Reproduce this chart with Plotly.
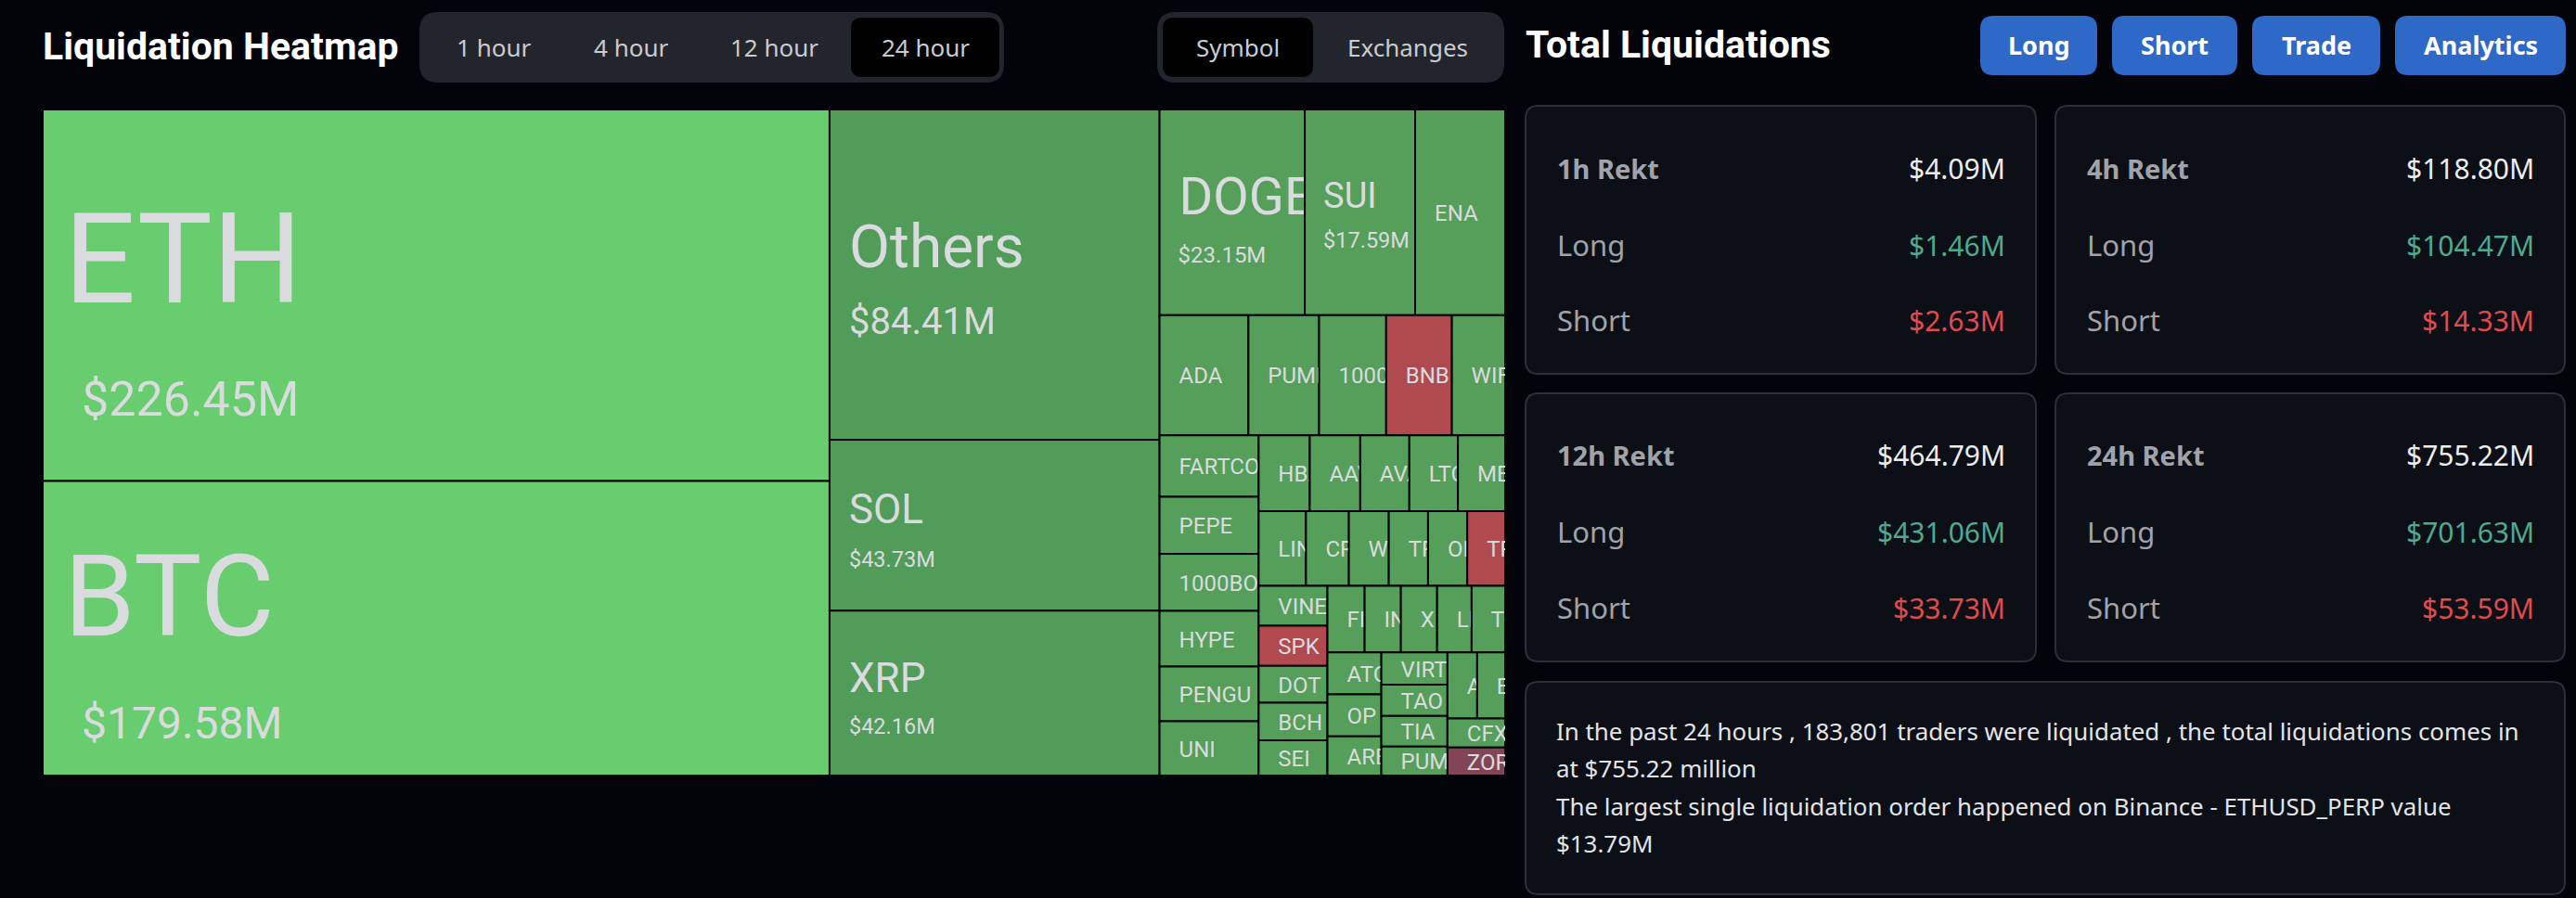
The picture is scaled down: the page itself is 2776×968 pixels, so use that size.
import plotly.graph_objects as go

PAGE_W = 2776
PAGE_H = 968
FONT = "Noto Sans"
MAP_FONT = "Roboto"

# liquidation totals per symbol in $M (small tiles estimated from their area)
SYMBOLS = [
    "ETH", "BTC", "Others", "SOL", "XRP", "DOGE", "SUI", "ENA",
    "ADA", "PUMP", "1000PEPE", "BNB", "WIF",
    "FARTCOIN", "PEPE", "1000BONK", "HYPE", "PENGU", "UNI",
    "HBAR", "AAVE", "AVAX", "LTC", "MEW",
    "LINK", "CRV", "WLD", "TRX", "ONDO", "TRUMP",
    "VINE", "SPK", "DOT", "BCH", "SEI",
    "FIL", "INJ", "X", "LDO", "TON",
    "ATOM", "OP", "ARB",
    "VIRTUAL", "TAO", "TIA", "PUMPBTC",
    "APT", "EIGEN", "CFX", "ZORA",
]
VALUES = [
    226.45, 179.58, 84.41, 43.73, 42.16, 23.15, 17.59, 14.35,
    8.26, 6.57, 6.23, 6.11, 4.95,
    4.73, 4.38, 4.38, 4.26, 4.21, 4.16,
    3.01, 2.97, 2.89, 2.86, 2.78,
    2.74, 2.48, 2.31, 2.27, 2.27, 2.19,
    2.13, 2.13, 1.97, 2.00, 1.88,
    1.92, 1.87, 1.87, 1.78, 1.73,
    1.75, 1.75, 1.64,
    1.65, 1.60, 1.57, 1.48,
    1.52, 1.43, 1.30, 1.25,
]
VALUE_LABELS = {
    "ETH": "$226.45M", "BTC": "$179.58M", "Others": "$84.41M", "SOL": "$43.73M",
    "XRP": "$42.16M", "DOGE": "$23.15M", "SUI": "$17.59M",
}
SHORT_HEAVY = ["BNB", "TRUMP", "SPK"]
SHORT_DARK = ["ZORA"]
BRIGHT = ["ETH", "BTC"]
MID = ["Others", "SOL", "XRP"]

# how the tiles nest: "col" stacks children, "row" puts them side by side
TREE = ("row", [
    ("col", ["ETH", "BTC"]),
    ("col", ["Others", "SOL", "XRP"]),
    ("col", [
        ("row", ["DOGE", "SUI", "ENA"]),
        ("row", ["ADA", "PUMP", "1000PEPE", "BNB", "WIF"]),
        ("row", [
            ("col", ["FARTCOIN", "PEPE", "1000BONK", "HYPE", "PENGU", "UNI"]),
            ("col", [
                ("row", ["HBAR", "AAVE", "AVAX", "LTC", "MEW"]),
                ("row", ["LINK", "CRV", "WLD", "TRX", "ONDO", "TRUMP"]),
                ("row", [
                    ("col", ["VINE", "SPK", "DOT", "BCH", "SEI"]),
                    ("col", [
                        ("row", ["FIL", "INJ", "X", "LDO", "TON"]),
                        ("row", [
                            ("col", ["ATOM", "OP", "ARB"]),
                            ("col", ["VIRTUAL", "TAO", "TIA", "PUMPBTC"]),
                            ("col", [
                                ("row", ["APT", "EIGEN"]),
                                "CFX",
                                "ZORA",
                            ]),
                        ]),
                    ]),
                ]),
            ]),
        ]),
    ]),
])

HOUR_TABS = ["1 hour", "4 hour", "12 hour", "24 hour"]
GROUP_TABS = ["Symbol", "Exchanges"]
BUTTONS = ["Long", "Short", "Trade", "Analytics"]
PERIODS = ["1h Rekt", "4h Rekt", "12h Rekt", "24h Rekt"]
TOTALS = ["$4.09M", "$118.80M", "$464.79M", "$755.22M"]
LONGS = ["$1.46M", "$104.47M", "$431.06M", "$701.63M"]
SHORTS = ["$2.63M", "$14.33M", "$33.73M", "$53.59M"]
SUMMARY = [
    "In the past 24 hours , 183,801 traders were liquidated , the total liquidations comes in",
    "at $755.22 million",
    "The largest single liquidation order happened on Binance - ETHUSD_PERP value",
    "$13.79M",
]

value_of = dict(zip(SYMBOLS, VALUES))

# treemap box on the page
MAP_X0, MAP_X1, MAP_Y0, MAP_Y1 = 46, 1622, 118, 836
MAP_W = MAP_X1 - MAP_X0
MAP_H = MAP_Y1 - MAP_Y0

# name size, name dx, name dy, value size, value dx, value dy
BIG_LABELS = {
    "ETH": (136, 23, -41, 52, 42, 111),
    "BTC": (123, 23, -37, 48, 42, 101),
    "Others": (64, 21, -31, 40, 21, 50),
    "SOL": (44, 21, -18, 23.5, 21, 36),
    "XRP": (44, 21, -17, 23.5, 21, 35),
    "DOGE": (56, 21, -18, 24, 20, 45),
    "SUI": (38, 20, -19, 23.5, 20, 30),
}


def weight(node):
    if isinstance(node, str):
        return value_of[node]
    return sum(weight(kid) for kid in node[1])


def place(node, x, y, w, h, out):
    if isinstance(node, str):
        out.append((node, x, y, w, h))
        return
    kind, kids = node
    total = weight(node)
    for kid in kids:
        share = weight(kid) / total
        if kind == "row":
            place(kid, x, y, w * share, h, out)
            x += w * share
        else:
            place(kid, x, y, w, h * share, out)
            y += h * share


def tile_color(name):
    if name in BRIGHT:
        return "#68cd6e"
    if name in MID:
        return "#529c5a"
    if name in SHORT_HEAVY:
        return "#b04a4e"
    if name in SHORT_DARK:
        return "#824556"
    return "#559f5a"


def px(x):
    return x / PAGE_W


def py(y):
    return 1 - y / PAGE_H


def round_rect(x0, y0, x1, y1, r, fill, line=None):
    p = (
        f"M{px(x0 + r)},{py(y0)} L{px(x1 - r)},{py(y0)} Q{px(x1)},{py(y0)} {px(x1)},{py(y0 + r)} "
        f"L{px(x1)},{py(y1 - r)} Q{px(x1)},{py(y1)} {px(x1 - r)},{py(y1)} "
        f"L{px(x0 + r)},{py(y1)} Q{px(x0)},{py(y1)} {px(x0)},{py(y1 - r)} "
        f"L{px(x0)},{py(y0 + r)} Q{px(x0)},{py(y0)} {px(x0 + r)},{py(y0)} Z"
    )
    return dict(
        type="path", xref="paper", yref="paper", path=p, fillcolor=fill, layer="below",
        line=dict(color=line or fill, width=2 if line else 0),
    )


def label(x, y, text, size, color, anchor="left", bold=False, family=FONT):
    return dict(
        xref="paper", yref="paper", x=px(x), y=py(y), text=text, showarrow=False,
        xanchor=anchor, yanchor="middle", borderpad=0,
        font=dict(family=family, size=size, color=color, weight=700 if bold else 400),
    )


def main():
    tiles = []
    place(TREE, 0, 0, MAP_W, MAP_H, tiles)

    fig = go.Figure()
    # drawn in order, so each tile covers whatever text spills out of the one before it
    for name, x, y, w, h in tiles:
        fig.add_trace(go.Scatter(
            x=[x, x + w, x + w, x, x], y=[y, y, y + h, y + h, y],
            mode="lines", fill="toself", fillcolor=tile_color(name),
            line=dict(color="#000000", width=2), hoverinfo="skip",
        ))
        cy = y + h / 2
        if name in BIG_LABELS:
            ns, ndx, ndy, vs, vdx, vdy = BIG_LABELS[name]
            xs = [x + ndx, x + vdx]
            ys = [cy + ndy + 0.11 * ns, cy + vdy + 0.11 * vs]
            texts = [name, VALUE_LABELS[name]]
            sizes = [ns, vs]
        else:
            xs, ys, texts, sizes = [x + 21], [cy + 3], [name], [24]
        fig.add_trace(go.Scatter(
            x=xs, y=ys, text=texts, mode="text", textposition="middle right",
            textfont=dict(family=MAP_FONT, size=sizes, color="#dadbdf"), hoverinfo="skip",
        ))

    shapes = [
        round_rect(452, 13, 1082, 89, 20, "#22252c"),
        round_rect(917, 19, 1077, 83, 12, "#000000"),
        round_rect(1247, 13, 1621, 89, 20, "#22252c"),
        round_rect(1253, 19, 1415, 83, 12, "#000000"),
    ]
    notes = [
        label(45, 50, "Liquidation Heatmap", 41, "#ffffff", bold=True, family=MAP_FONT),
        label(1643, 48, "Total Liquidations", 41, "#ffffff", bold=True, family=MAP_FONT),
    ]
    for text, cx in zip(HOUR_TABS, [532, 680, 835, 997]):
        notes.append(label(cx, 51, text, 26, "#c9cbd0", "center"))
    for text, cx in zip(GROUP_TABS, [1334, 1517]):
        notes.append(label(cx, 51, text, 26, "#c9cbd0", "center"))
    for text, (x0, x1) in zip(BUTTONS, [(2134, 2260), (2276, 2411), (2427, 2565), (2581, 2765)]):
        shapes.append(round_rect(x0, 17, x1, 81, 14, "#2e69c8"))
        notes.append(label((x0 + x1) / 2, 48, text, 27, "#ffffff", "center", bold=True))

    cards = [(1644, 114, 2194, 403), (2215, 114, 2764, 403), (1644, 424, 2194, 713), (2215, 424, 2764, 713)]
    rows = [(181, 264, 345), (181, 264, 345), (490, 573, 655), (490, 573, 655)]
    for i, (x0, y0, x1, y1) in enumerate(cards):
        shapes.append(round_rect(x0, y0, x1, y1, 14, "#0c1016", "#2c3036"))
        left = x0 + 33
        right = x1 - 32
        top, mid, low = rows[i]
        notes.append(label(left, top, PERIODS[i], 29, "#a0a3a9", bold=True))
        notes.append(label(right, top, TOTALS[i], 30, "#eceded", "right"))
        notes.append(label(left, mid, "Long", 31, "#a0a3a9"))
        notes.append(label(right, mid, LONGS[i], 30, "#4fa98f", "right"))
        notes.append(label(left, low, "Short", 31, "#a0a3a9"))
        notes.append(label(right, low, SHORTS[i], 30, "#e04b4f", "right"))

    shapes.append(round_rect(1644, 735, 2764, 964, 14, "#0c1016", "#2c3036"))
    for text, y in zip(SUMMARY, [788, 828, 869, 909]):
        notes.append(label(1676, y, text, 25.9, "#e2e4e8"))

    fig.update_layout(
        width=PAGE_W, height=PAGE_H, margin=dict(l=0, r=0, t=0, b=0),
        paper_bgcolor="#03040a", plot_bgcolor="#03040a", showlegend=False,
        shapes=shapes, annotations=notes,
        xaxis=dict(visible=False, range=[0, MAP_W], domain=[px(MAP_X0), px(MAP_X1)], fixedrange=True),
        yaxis=dict(visible=False, range=[MAP_H, 0], domain=[py(MAP_Y1), py(MAP_Y0)], fixedrange=True),
    )
    # the page's default body margin would otherwise push the figure off the window
    fig.write_html(
        "out.html",
        config={"displayModeBar": False},
        post_script="document.body.style.margin='0';document.body.style.background='#03040a';",
    )


if __name__ == "__main__":
    main()
